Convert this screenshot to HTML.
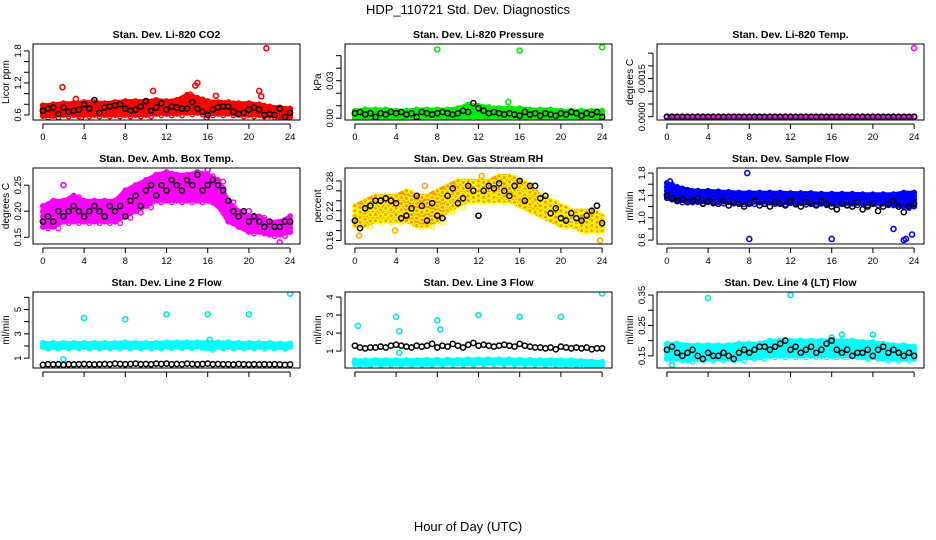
<!DOCTYPE html>
<html><head><meta charset="utf-8"><style>
html,body{margin:0;padding:0;background:#fff}
svg{display:block;font-family:"Liberation Sans",sans-serif}
</style></head><body>
<svg id="c" width="936" height="540" viewBox="0 0 936 540">
<text x="468" y="14" text-anchor="middle" font-size="13">HDP_110721 Std. Dev. Diagnostics</text>
<text x="468" y="531" text-anchor="middle" font-size="13">Hour of Day (UTC)</text>
</svg>
<script>
const bandHours=[0,1,2,3,4,5,6,7,8,9,10,11,12,13,14,15,16,17,18,19,20,21,22,23,24];
const blackHours=[0,0.5,1,1.5,2,2.5,3,3.5,4,4.5,5,5.5,6,6.5,7,7.5,8,8.5,9,9.5,10,10.5,11,11.5,12,12.5,13,13.5,14,14.5,15,15.5,16,16.5,17,17.5,18,18.5,19,19.5,20,20.5,21,21.5,22,22.5,23,23.5,24];
const xTicks=[0,4,8,12,16,20,24];
const titles=["Stan. Dev. Li-820 CO2","Stan. Dev. Li-820 Pressure","Stan. Dev. Li-820 Temp.","Stan. Dev. Amb. Box Temp.","Stan. Dev. Gas Stream RH","Stan. Dev. Sample Flow","Stan. Dev. Line 2 Flow","Stan. Dev. Line 3 Flow","Stan. Dev. Line 4 (LT) Flow"];
const yTitles=["Licor ppm","kPa","degrees C","degrees C","percent","ml/min","ml/min","ml/min","ml/min"];
const yDomains=[[0.506,1.93],[-0.0014,0.0593],[-0.00013,0.00286],[0.137,0.283],[0.153,0.306],[0.53,1.89],[0.19,6.44],[0.06,4.28],[0.11,0.36]];
const yTickVals=[[0.6,0.8,1.0,1.2,1.4,1.6,1.8],[0,0.01,0.02,0.03,0.04,0.05],[0,0.0005,0.001,0.0015,0.002,0.0025],[0.15,0.2,0.25],[0.16,0.18,0.2,0.22,0.24,0.26,0.28],[0.6,0.8,1.0,1.2,1.4,1.6,1.8],[1,2,3,4,5,6],[1,2,3,4],[0.15,0.2,0.25,0.3,0.35]];
const yTickLabels=[["0.6","","","1.2","","","1.8"],["0.00","","","0.03","",""],["0.0000","","","0.0015","",""],["0.15","0.20","0.25"],["0.16","","","0.22","","","0.28"],["0.6","","1.0","","1.4","","1.8"],["1","","3","","5",""],["1","2","3","4"],["0.15","","0.25","","0.35"]];
const colors=["#ff0000","#00ee00","#ff00ff","#ff00ff","#ffaa00","#0000ff","#00ffff","#00ffff","#00ffff"];
const bandLo=[
[0.58,0.58,0.6,0.6,0.6,0.6,0.6,0.6,0.6,0.6,0.6,0.62,0.62,0.62,0.64,0.64,0.62,0.62,0.62,0.6,0.6,0.6,0.58,0.56,0.56],
[0.0003,0.0003,0.0003,0.0003,0.0003,0.0003,0.0003,0.0003,0.0003,0.0003,0.0003,0.001,0.001,0.0005,0.0003,0.0003,0.0003,0.0003,0.0003,0.0003,0.0003,0.0003,0.0003,0.0003,0.0003],
[0,0,0,0,0,0,0,0,0,0,0,0,0,0,0,0,0,0,0,0,0,0,0,0,0],
[0.17,0.17,0.18,0.18,0.18,0.18,0.18,0.18,0.19,0.2,0.21,0.22,0.22,0.22,0.22,0.22,0.22,0.21,0.18,0.17,0.16,0.16,0.155,0.155,0.16],
[0.19,0.19,0.2,0.2,0.2,0.2,0.19,0.19,0.2,0.22,0.23,0.24,0.24,0.24,0.24,0.24,0.23,0.22,0.21,0.2,0.19,0.19,0.18,0.18,0.18],
[1.35,1.3,1.3,1.28,1.28,1.28,1.28,1.27,1.27,1.27,1.27,1.26,1.26,1.26,1.26,1.25,1.25,1.25,1.25,1.25,1.25,1.25,1.22,1.2,1.2],
[1.9,1.9,1.92,1.92,1.92,1.92,1.92,1.92,1.92,1.92,1.92,1.92,1.95,1.95,1.95,1.95,1.8,1.92,1.92,1.92,1.92,1.92,1.92,1.9,1.9],
[0.28,0.28,0.3,0.3,0.3,0.3,0.3,0.3,0.32,0.32,0.32,0.32,0.34,0.34,0.34,0.34,0.32,0.32,0.3,0.3,0.28,0.28,0.26,0.24,0.22],
[0.14,0.14,0.135,0.14,0.14,0.14,0.14,0.14,0.145,0.145,0.15,0.15,0.15,0.15,0.15,0.15,0.15,0.15,0.15,0.145,0.145,0.14,0.14,0.14,0.14]];
const bandHi=[
[0.78,0.8,0.82,0.82,0.84,0.84,0.82,0.84,0.86,0.86,0.86,0.88,0.86,0.88,0.98,0.92,0.86,0.84,0.84,0.82,0.82,0.8,0.76,0.74,0.72],
[0.006,0.007,0.007,0.007,0.006,0.006,0.007,0.007,0.007,0.007,0.008,0.011,0.01,0.009,0.008,0.008,0.008,0.007,0.007,0.007,0.006,0.006,0.006,0.006,0.006],
[0,0,0,0,0,0,0,0,0,0,0,0,0,0,0,0,0,0,0,0,0,0,0,0,0],
[0.21,0.22,0.22,0.23,0.22,0.22,0.22,0.22,0.24,0.25,0.26,0.27,0.275,0.27,0.27,0.275,0.27,0.26,0.22,0.2,0.19,0.19,0.18,0.18,0.19],
[0.23,0.24,0.25,0.25,0.25,0.26,0.25,0.25,0.26,0.27,0.28,0.28,0.28,0.28,0.29,0.29,0.28,0.27,0.25,0.24,0.23,0.22,0.22,0.22,0.21],
[1.62,1.55,1.5,1.48,1.48,1.47,1.46,1.45,1.45,1.45,1.45,1.45,1.44,1.44,1.44,1.43,1.43,1.43,1.43,1.42,1.42,1.42,1.42,1.45,1.45],
[2.25,2.25,2.25,2.25,2.25,2.25,2.25,2.25,2.3,2.25,2.25,2.25,2.3,2.3,2.3,2.3,2.3,2.3,2.3,2.25,2.25,2.25,2.25,2.2,2.2],
[0.48,0.48,0.5,0.5,0.5,0.5,0.5,0.52,0.52,0.52,0.52,0.54,0.54,0.54,0.54,0.54,0.52,0.52,0.5,0.5,0.48,0.48,0.45,0.42,0.4],
[0.19,0.19,0.185,0.185,0.185,0.185,0.185,0.19,0.19,0.19,0.2,0.2,0.2,0.2,0.2,0.2,0.2,0.2,0.2,0.195,0.195,0.19,0.185,0.185,0.18]];
const blackVals=[
[0.68,0.72,0.74,0.62,0.74,0.66,0.68,0.7,0.8,0.72,0.88,0.64,0.74,0.76,0.78,0.8,0.72,0.68,0.7,0.76,0.86,0.68,0.74,0.82,0.7,0.76,0.74,0.72,0.72,0.84,0.72,0.66,0.6,0.7,0.74,0.76,0.76,0.66,0.62,0.64,0.7,0.74,0.7,0.6,0.62,0.6,0.72,0.56,0.64],
[0.004,0.005,0.003,0.004,0.001,0.004,0.003,0.005,0.004,0.005,0.003,0.004,0.001,0.005,0.004,0.003,0.004,0.005,0.004,0.003,0.004,0.006,0.005,0.012,0.008,0.006,0.004,0.005,0.004,0.003,0.004,0.003,0.002,0.005,0.003,0.004,0.002,0.004,0.003,0.002,0.004,0.003,0.005,0.004,0.002,0.004,0.003,0.005,0.001],
[0,0,0,0,0,0,0,0,0,0,0,0,0,0,0,0,0,0,0,0,0,0,0,0,0,0,0,0,0,0,0,0,0,0,0,0,0,0,0,0,0,0,0,0,0,0,0,0,0],
[0.18,0.19,0.18,0.2,0.19,0.2,0.21,0.2,0.19,0.2,0.21,0.2,0.19,0.21,0.2,0.21,0.19,0.22,0.23,0.21,0.24,0.25,0.23,0.25,0.24,0.26,0.25,0.24,0.26,0.25,0.27,0.24,0.25,0.26,0.25,0.24,0.22,0.2,0.19,0.2,0.18,0.19,0.18,0.17,0.18,0.17,0.17,0.18,0.18],
[0.2,0.185,0.225,0.23,0.24,0.24,0.245,0.24,0.235,0.205,0.21,0.225,0.25,0.23,0.2,0.235,0.21,0.205,0.25,0.265,0.235,0.245,0.27,0.26,0.21,0.26,0.27,0.265,0.275,0.26,0.25,0.27,0.28,0.24,0.27,0.27,0.245,0.25,0.215,0.225,0.205,0.2,0.215,0.205,0.2,0.21,0.22,0.23,0.195],
[1.4,1.35,1.3,1.33,1.28,1.3,1.35,1.25,1.3,1.28,1.25,1.3,1.22,1.28,1.25,1.2,1.25,1.3,1.22,1.25,1.2,1.28,1.25,1.22,1.3,1.25,1.2,1.28,1.25,1.22,1.3,1.25,1.2,1.15,1.25,1.22,1.2,1.28,1.15,1.2,1.25,1.12,1.2,1.25,1.3,1.2,1.1,1.2,1.25],
[0.45,0.5,0.48,0.5,0.45,0.5,0.48,0.5,0.52,0.5,0.48,0.5,0.52,0.5,0.55,0.52,0.5,0.52,0.55,0.5,0.52,0.5,0.55,0.52,0.55,0.5,0.52,0.5,0.55,0.52,0.5,0.52,0.55,0.5,0.52,0.5,0.5,0.48,0.52,0.5,0.48,0.5,0.48,0.5,0.48,0.5,0.48,0.45,0.48],
[1.3,1.2,1.15,1.2,1.2,1.25,1.2,1.3,1.35,1.3,1.25,1.2,1.3,1.25,1.3,1.4,1.2,1.3,1.25,1.4,1.3,1.2,1.35,1.45,1.3,1.35,1.3,1.25,1.3,1.35,1.3,1.25,1.4,1.3,1.25,1.2,1.2,1.15,1.2,1.1,1.25,1.2,1.15,1.2,1.15,1.2,1.1,1.15,1.15],
[0.17,0.18,0.16,0.15,0.16,0.17,0.15,0.14,0.16,0.15,0.15,0.16,0.15,0.14,0.16,0.17,0.16,0.17,0.18,0.18,0.17,0.18,0.19,0.2,0.17,0.18,0.16,0.17,0.18,0.16,0.17,0.19,0.2,0.17,0.16,0.17,0.15,0.16,0.16,0.17,0.15,0.17,0.18,0.16,0.17,0.16,0.15,0.16,0.15]];
const outX=[
[1.9,21.7,14.8,15.0,10.7,21.0,21.2,16.8,3.2,15.9,3.7,14.3],
[8,16,24,14.9],
[24],
[2,12,16,20,23,0.5],
[0.4,6.8,3.9,23.8,12.3],
[8,16,23.2,23.8,7.8,22,23,0.3],
[4,8,12,16,20,24,2,16.2],
[0.3,4,4.3,8,8.3,12,16,20,24,4.3],
[4,12,20,16,17,0.5],
];
const outY=[
[1.12,1.85,1.15,1.2,1.05,1.05,0.95,0.96,0.9,0.55,0.55,0.98],
[0.055,0.054,0.0567,0.013],
[0.0027],
[0.25,0.29,0.28,0.2,0.14,0.2],
[0.17,0.27,0.18,0.16,0.29],
[0.62,0.62,0.62,0.7,1.8,0.8,0.6,1.65],
[4.3,4.2,4.6,4.6,4.6,6.3,0.9,2.5],
[2.4,2.9,2.1,2.7,2.2,3.0,2.9,2.9,4.2,0.9],
[0.34,0.35,0.22,0.21,0.22,0.12],
];
const NS="http://www.w3.org/2000/svg";
const svg=document.getElementById('c');
const colX0=[33,345,657],colW=267,rowY0=[44,168,292],rowH=76;
function mk(tag,attrs,parent){const e=document.createElementNS(NS,tag);for(const k in attrs)e.setAttribute(k,attrs[k]);(parent||svg).appendChild(e);return e;}
for(let p=0;p<9;p++){
  const c=p%3,r=Math.floor(p/3);
  const bx=colX0[c],by=rowY0[r];
  const g=mk('g',{});
  
  
  const xs=h=>bx+colW*(h+0.96)/25.92;
  const [d0,d1]=yDomains[p];
  const ys=v=>by+rowH-(v-d0)/(d1-d0)*rowH;
  const clip=mk('clipPath',{id:'cl'+p},g);mk('rect',{x:bx,y:by,width:colW,height:rowH},clip);
  const pg=mk('g',{'clip-path':'url(#cl'+p+')'},g);
  let pts=bandHours.map((h,i)=>xs(h)+','+ys(bandHi[p][i]));
  pts=pts.concat(bandHours.map((h,i)=>xs(h)+','+ys(bandLo[p][i])).reverse());
  const fillc=p===4?'#ff9900':colors[p];
  const poly=mk('polygon',{points:pts.join(' '),fill:fillc,stroke:fillc,'stroke-width':4},pg);
  
  
  const circC=p===4?'#ffff00':colors[p];
  bandHours.forEach((h,i)=>{
    const lo=bandLo[p][i],hi=bandHi[p][i];
    for(let k=0;k<=4;k++){
      for(let j=0;j<2;j++){
        const hh=h+j*0.5; if(hh>24)continue;
        const v=lo+(hi-lo)*k/4;
        const ci=mk('circle',{cx:xs(hh),cy:ys(v)+(j?1.5:0),r:2.3,fill:'none',stroke:circC,'stroke-width':1.4},pg);
        
        
      }
    }
  });
  outX[p].forEach((h,i)=>{
    const ci=mk('circle',{cx:xs(h),cy:ys(outY[p][i]),r:2.5,fill:'none',stroke:colors[p]==='#00ffff'?'#00e5e5':colors[p],'stroke-width':1.6},pg);
    
    
  });
  blackHours.forEach((h,i)=>{
    const ci=mk('circle',{cx:xs(h),cy:ys(blackVals[p][i]),r:2.6,fill:'none',stroke:'#000','stroke-width':1.5},pg);
    
    
  });
  const box=mk('rect',{x:bx,y:by,width:colW,height:rowH,fill:'none',stroke:'#000','stroke-width':1},g);
  
  
  mk('line',{x1:xs(0),x2:xs(24),y1:by+rowH+4,y2:by+rowH+4,stroke:'#000'},g);
  xTicks.forEach(t=>{
    mk('line',{x1:xs(t),x2:xs(t),y1:by+rowH+4,y2:by+rowH+9,stroke:'#000'},g);
    if(r<2){const tx=mk('text',{x:xs(t),y:by+rowH+20,'text-anchor':'middle','font-size':9.5},g);tx.textContent=t;
      
      }
  });
  const tv=yTickVals[p];
  mk('line',{x1:bx-4,x2:bx-4,y1:ys(tv[0]),y2:ys(tv[tv.length-1]),stroke:'#000'},g);
  tv.forEach((t,i)=>{
    mk('line',{x1:bx-9,x2:bx-4,y1:ys(t),y2:ys(t),stroke:'#000'},g);
    const lab=yTickLabels[p][i];
    if(lab){const tx=mk('text',{x:0,y:0,'text-anchor':'middle','font-size':9.5,transform:`translate(${bx-12},${ys(t)}) rotate(-90)`},g);tx.textContent=lab;
      
      }
  });
  const yt=mk('text',{x:0,y:0,'text-anchor':'middle','font-size':10,transform:`translate(${bx-24},${by+rowH/2}) rotate(-90)`},g);yt.textContent=yTitles[p];
  
  
  const tt=mk('text',{x:bx+colW/2,y:by-6,'text-anchor':'middle','font-size':10.5,'font-weight':'bold'},g);tt.textContent=titles[p];
  
  
}
</script>
</body></html>
